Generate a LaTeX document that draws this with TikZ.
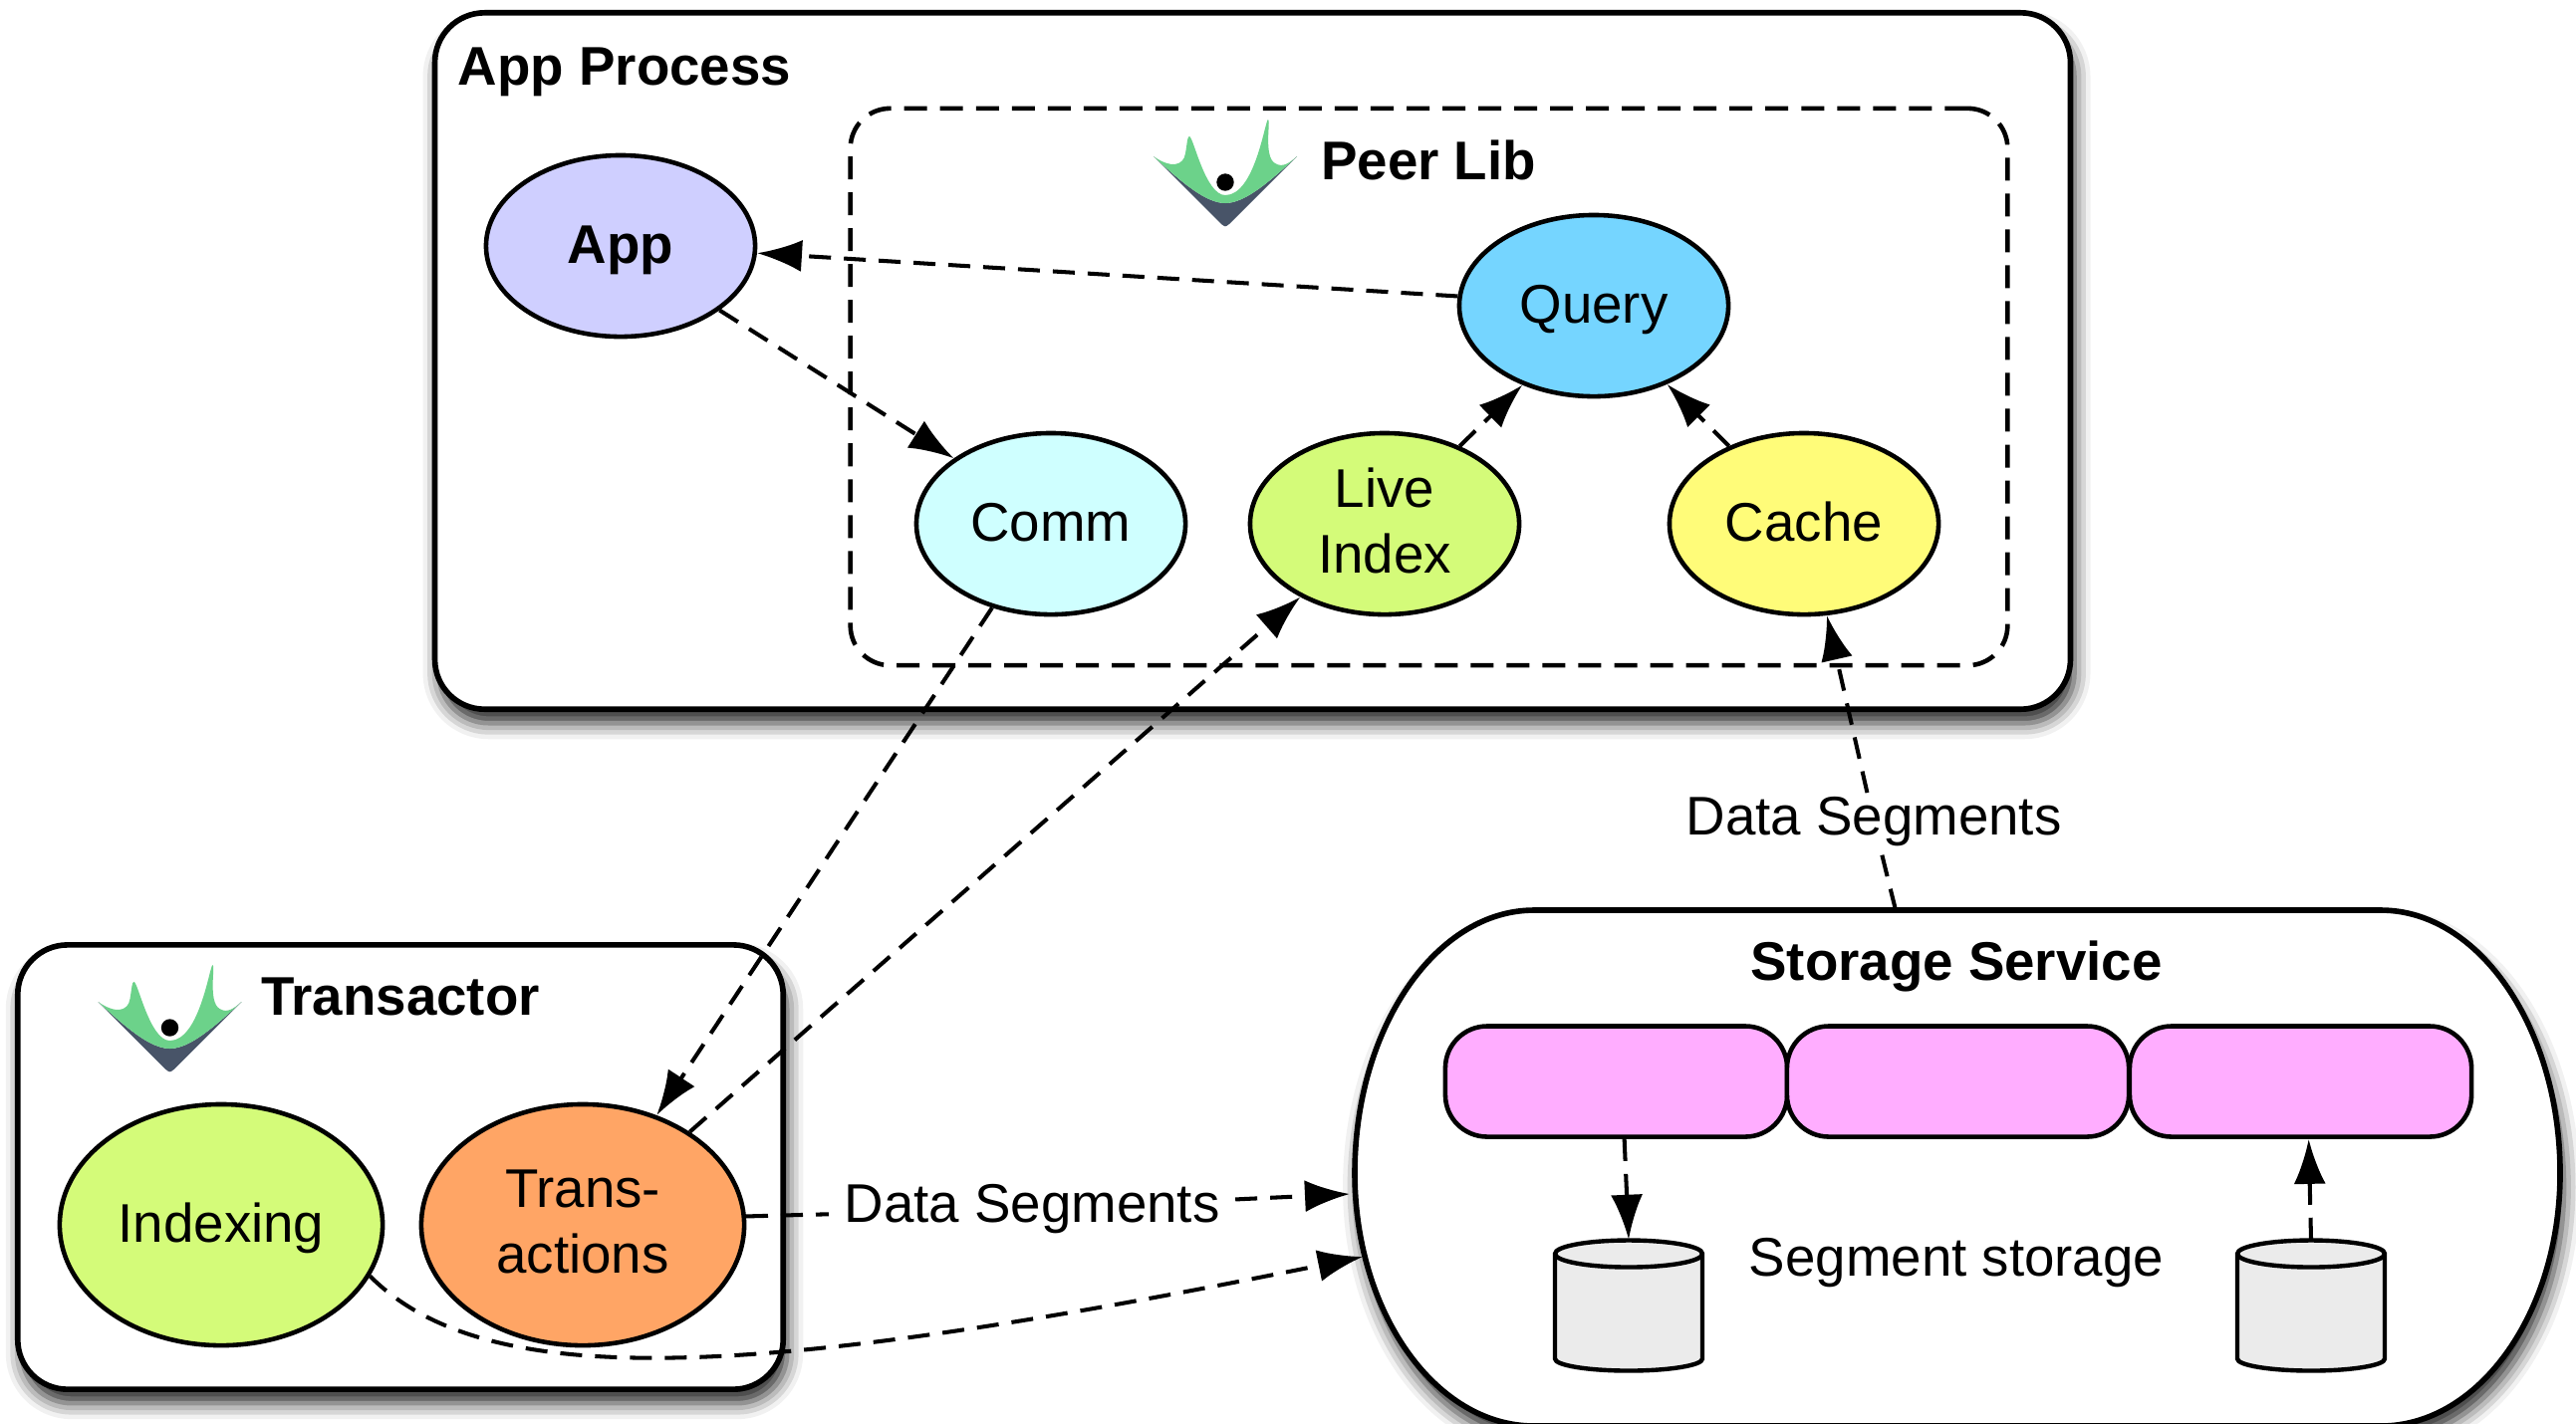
\documentclass[tikz,border=0pt]{standalone}
\usepackage{fontspec}
\setmainfont{Liberation Sans}
\usetikzlibrary{arrows.meta,shapes.geometric,shadows.blur}
\definecolor{appcol}{HTML}{CFCFFF}
\definecolor{querycol}{HTML}{75D5FF}
\definecolor{commcol}{HTML}{CFFFFF}
\definecolor{limecol}{HTML}{D4FB79}
\definecolor{cachecol}{HTML}{FFFC79}
\definecolor{transcol}{HTML}{FFA565}
\definecolor{segcol}{HTML}{FFADFF}
\definecolor{cylcol}{HTML}{EBEBEB}
\definecolor{logogreen}{HTML}{6CD28A}
\definecolor{logodark}{HTML}{485468}
\tikzset{
	txt/.style={font=\fontsize{15.55}{18.7}\selectfont, align=center},
	title/.style={txt, font=\fontsize{15.55}{18.7}\selectfont\bfseries},
	proc/.style={txt, ellipse, draw, line width=1.3pt, inner sep=0pt, minimum width=2.7cm, minimum height=1.82cm},
	oneline/.style={text height=12.93pt, text depth=3.1pt},
	twolines/.style={text depth=1.9pt},
	bigproc/.style={proc, minimum width=3.24cm, minimum height=2.42cm},
	box/.style={draw, fill=white, line width=1.6pt, rounded corners=0.5cm, blur shadow={shadow xshift=0.04cm, shadow yshift=-0.14cm, shadow blur radius=0.16cm, shadow opacity=85}},
	segm/.style={draw, fill=segcol, line width=1.3pt, rounded corners=0.42cm, minimum width=3.43cm, minimum height=1.11cm},
	disk/.style={rectangle, inner sep=0pt, minimum width=1.48cm, minimum height=1.31cm},
	dashlabel/.style={txt, fill=white, inner xsep=0.15cm, inner ysep=1pt},
	dashline/.style={line width=1.15pt, dash pattern=on 0.22cm off 0.13cm},
	flow/.style={dashline, -{Latex[length=0.45cm,width=0.32cm,black,fill=black]}},
	diskshape/.pic={
		\draw[fill=cylcol, line width=1.25pt] (-74,-52) .. controls (-74,-59.5) and (-41,-65.5) .. (0,-65.5) .. controls (41,-65.5) and (74,-59.5) .. (74,-52) -- (74,53.5) .. controls (74,60) and (41,65.5) .. (0,65.5) .. controls (-41,65.5) and (-74,60) .. (-74,53.5) -- cycle;
		\draw[line width=1.25pt] (-74,-52) .. controls (-74,-44.5) and (-41,-38.5) .. (0,-38.5) .. controls (41,-38.5) and (74,-44.5) .. (74,-52);
	},
	vlogo/.pic={
		\fill[logodark] (-72,-70) -- (-4,-2) .. controls (0,1) .. (4,-2) -- (72,-70) .. controls (45,-45) and (20,-23) .. (0,-23) .. controls (-20,-23) and (-45,-45) .. (-72,-70) -- cycle;
		\fill[logogreen] (-72,-70) .. controls (-55,-58) and (-42,-60) .. (-40,-73) .. controls (-38,-85) and (-38,-90) .. (-36,-90) .. controls (-32,-90) and (-20,-31) .. (0,-31) .. controls (30,-31) and (40,-107) .. (43,-107) .. controls (46,-107) and (38,-70) .. (50,-63) .. controls (58,-58) and (65,-64) .. (72,-70) .. controls (45,-45) and (20,-23) .. (0,-23) .. controls (-20,-23) and (-45,-45) .. (-72,-70) -- cycle;
		\fill[black] (0,-44) circle[radius=8.7];
	}
}
\begin{document}
\begin{tikzpicture}[x=0.01cm, y=-0.01cm]
	\useasboundingbox (0,0) rectangle (2586,1429);

	\node (appprocess) [box, minimum width=16.41cm, minimum height=6.99cm] at (1257.5,362.5) {};
	\node (peerlib) [draw, line width=1.3pt, dash pattern=on 0.23cm off 0.13cm, rounded corners=0.4cm, minimum width=11.61cm, minimum height=5.59cm] at (1434.5,388.5) {};
	\node (transactor) [box, minimum width=7.68cm, minimum height=4.46cm] at (402,1172) {};
	\draw[box, rounded corners=0pt] (1540,914) -- (2390,914) .. controls (2489,914) and (2570,1033) .. (2570,1178) .. controls (2570,1318) and (2489,1432) .. (2390,1432) -- (1540,1432) .. controls (1441,1432) and (1360,1318) .. (1360,1178) .. controls (1360,1033) and (1441,914) .. (1540,914) -- cycle;
	\coordinate (storetop) at (1903,914);
	\coordinate (storeleft) at (1355,1199);
	\coordinate (storelow) at (1368,1262);

	\node (appprocesstitle) [title] at (627,72.5) {App Process};
	\node (peerlibtitle) [title] at (1434,161) {Peer Lib};
	\node (transactortitle) [title] at (402,1001) {Transactor};
	\node (storagetitle) [title] at (1964,970) {Storage Service};
	\pic at (1230,227) {vlogo};
	\pic at (170.5,1076) {vlogo};

	\node (app) [proc, oneline, fill=appcol, font=\fontsize{15.55}{18.7}\selectfont\bfseries] at (623,247) {App};
	\node (query) [proc, oneline, fill=querycol] at (1600,307) {Query};
	\node (comm) [proc, oneline, fill=commcol] at (1055,526) {Comm};
	\node (liveindex) [proc, twolines, fill=limecol] at (1390,526) {Live\\Index};
	\node (cache) [proc, oneline, fill=cachecol] at (1811,526) {Cache};
	\node (indexing) [bigproc, oneline, fill=limecol] at (222,1230) {Indexing};
	\node (trans) [bigproc, twolines, fill=transcol] at (585,1230) {Trans-\\actions};

	\node (sega) [segm] at (1622.5,1086) {};
	\node (segb) [segm] at (1965.5,1086) {};
	\node (segc) [segm] at (2309.5,1086) {};
	\pic at (1635,1311) {diskshape};
	\pic at (2320,1311) {diskshape};
	\node (diska) [disk] at (1635,1311) {};
	\node (diskb) [disk] at (2320,1311) {};
	\node (storagetxt) [txt] at (1964,1268) {Segment storage};

	\node (translabel) [dashlabel] at (1036,1214) {Data Segments};
	\node (cachelabel) [dashlabel] at (1881,825) {Data Segments};

	\draw[flow] (app.-33) -- (comm.146);
	\draw[flow] (query.176) -- (app.-3);
	\draw[flow] (liveindex.46) -- (query.228);
	\draw[flow] (cache.134) -- (query.-47);
	\draw[flow] (comm.235) -- (trans.56);
	\draw[flow] (trans.41) -- (liveindex.221);
	\draw[dashline] (trans.3) -- (translabel);
	\draw[flow] (translabel) -- (storeleft);
	\draw[flow] (indexing.-19) .. controls (490,1400) and (760,1385) .. (storelow);
	\draw[dashline] (storetop) -- (cachelabel);
	\draw[flow] (cachelabel) -- (cache.-76);
	\draw[flow] (sega.-82) -- (diska.north);
	\draw[flow] (diskb.north) -- (segc.-82);
\end{tikzpicture}
\end{document}
